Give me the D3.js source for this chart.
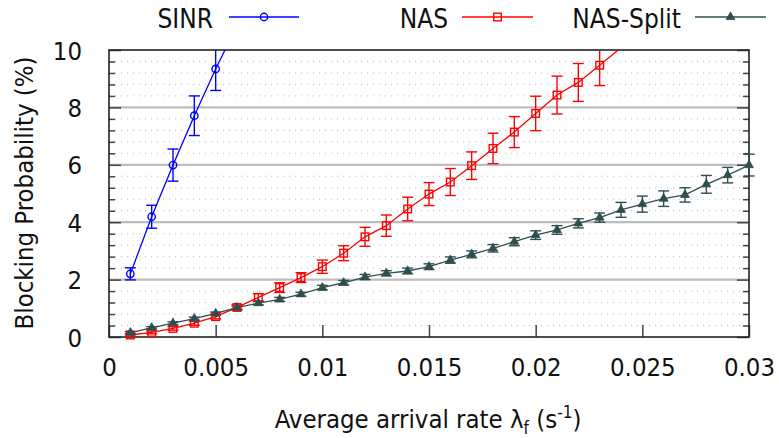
<!DOCTYPE html>
<html><head><meta charset="utf-8">
<script src="https://cdn.jsdelivr.net/npm/d3@7"></script>
<style>
body{margin:0;background:#fff;}
text{font-family:"DejaVu Sans Condensed","DejaVu Sans",sans-serif;font-stretch:condensed;fill:#111;}
</style></head>
<body><svg id="c" width="779" height="438"></svg>
<script>
const xSinr = [0.001,0.002,0.003,0.004,0.005,0.006];
const ySinr = [2.2,4.19,5.99,7.71,9.34,10.85];
const eSinr = [0.21,0.4,0.56,0.69,0.75,0.8];

const xNas = [0.001,0.002,0.003,0.004,0.005,0.006,0.007,0.008,0.009,0.010,0.011,0.012,0.013,0.014,0.015,0.016,0.017,0.018,0.019,0.020,0.021,0.022,0.023,0.024];
const yNas = [0.07,0.16,0.30,0.48,0.71,1.03,1.38,1.72,2.07,2.45,2.92,3.49,3.88,4.46,4.98,5.40,5.97,6.57,7.14,7.79,8.43,8.87,9.47,10.08];
const eNas = [0.04,0.05,0.06,0.07,0.08,0.09,0.13,0.17,0.17,0.23,0.26,0.33,0.37,0.41,0.40,0.47,0.48,0.53,0.54,0.60,0.66,0.66,0.71,0.7];

const xSplit = [0.001,0.002,0.003,0.004,0.005,0.006,0.007,0.008,0.009,0.010,0.011,0.012,0.013,0.014,0.015,0.016,0.017,0.018,0.019,0.020,0.021,0.022,0.023,0.024,0.025,0.026,0.027,0.028,0.029,0.030];
const ySplit = [0.15,0.32,0.48,0.64,0.82,1.02,1.18,1.31,1.49,1.72,1.89,2.09,2.22,2.30,2.45,2.68,2.88,3.09,3.32,3.55,3.73,3.96,4.16,4.43,4.63,4.82,4.95,5.32,5.64,5.99];
const eSplit = [0.04,0.04,0.05,0.05,0.05,0.06,0.06,0.07,0.07,0.08,0.08,0.09,0.09,0.1,0.1,0.11,0.12,0.13,0.14,0.15,0.15,0.16,0.16,0.26,0.28,0.27,0.25,0.31,0.27,0.38];

const xTickVals = [0,0.005,0.01,0.015,0.02,0.025,0.03];
const xTickLabels = ["0","0.005","0.01","0.015","0.02","0.025","0.03"];
const yTickVals = [0,2,4,6,8,10];
const yTickLabels = ["0","2","4","6","8","10"];
const seriesNames = ["SINR","NAS","NAS-Split"];
const seriesColors = ["#0000ff","#ff0000","#2f4f4f"];

const svg = d3.select("#c");
const L=109,R=749,T=50,B=337;
const x = d3.scaleLinear().domain([0,0.03]).range([L,R]);
const y = d3.scaleLinear().domain([0,10]).range([B,T]);

svg.append("defs").append("clipPath").attr("id","clip")
  .append("rect").attr("x",L-10).attr("y",T).attr("width",R-L+20).attr("height",B-T+10);

// minor dotted grid
const minor = d3.range(0,10.001,0.4).filter(v=>Math.abs(v/2-Math.round(v/2))>0.01);
svg.append("g").selectAll("line").data(minor).join("line")
  .attr("x1",L).attr("x2",R).attr("y1",d=>y(d)).attr("y2",d=>y(d))
  .attr("stroke","#bbb").attr("stroke-width",1).attr("stroke-dasharray","1,5");
// major grid
svg.append("g").selectAll("line").data([2,4,6,8]).join("line")
  .attr("x1",L).attr("x2",R).attr("y1",d=>y(d)).attr("y2",d=>y(d))
  .attr("stroke","#bdbdbd").attr("stroke-width",2.2);

// axes
const yl = d3.axisLeft(y).tickValues(yTickVals).tickFormat((d,i)=>yTickLabels[i]).tickSize(-12).tickPadding(26);
const gy = svg.append("g").attr("transform",`translate(${L},0)`).call(yl);
const yr = d3.axisRight(y).tickValues(yTickVals).tickFormat("").tickSize(-12);
svg.append("g").attr("transform",`translate(${R},0)`).call(yr);
svg.append("g").attr("transform",`translate(${L},0)`).call(d3.axisLeft(y).tickValues(minor).tickFormat("").tickSize(-6));
svg.append("g").attr("transform",`translate(${R},0)`).call(d3.axisRight(y).tickValues(minor).tickFormat("").tickSize(-6));
const xa = d3.axisBottom(x).tickValues(xTickVals).tickFormat((d,i)=>xTickLabels[i]).tickSize(-12).tickPadding(20);
const gx = svg.append("g").attr("transform",`translate(0,${B})`).call(xa);
svg.selectAll(".domain").remove();
svg.selectAll(".tick line").attr("stroke","#444").attr("stroke-width",1.5);
svg.selectAll(".tick text").attr("font-size",25.5).attr("fill","#111");
gy.selectAll(".tick text").attr("dx",-1).attr("dy","0.36em");
gx.selectAll(".tick text").attr("dy","0.73em");

// frame
svg.append("rect").attr("x",L).attr("y",T).attr("width",R-L).attr("height",B-T)
  .attr("fill","none").attr("stroke","#222").attr("stroke-width",1.6);

const series = [
  {xs:xSinr,ys:ySinr,es:eSinr},
  {xs:xNas,ys:yNas,es:eNas},
  {xs:xSplit,ys:ySplit,es:eSplit}
];
const line = d3.line().x(d=>x(d[0])).y(d=>y(d[1]));
const plot = svg.append("g");
const clipped = plot.append("g").attr("clip-path","url(#clip)");

function marker(g, type, cx, cy, col){
  if(type===0){
    g.append("circle").attr("cx",cx).attr("cy",cy).attr("r",3.7).attr("fill","none").attr("stroke",col).attr("stroke-width",1.4);
  } else if(type===1){
    g.append("rect").attr("x",cx-3.8).attr("y",cy-3.8).attr("width",7.6).attr("height",7.6).attr("fill","none").attr("stroke",col).attr("stroke-width",1.4);
  } else {
    g.append("path").attr("d",d3.symbol().type(d3.symbolTriangle).size(34)()).attr("transform",`translate(${cx},${cy})`).attr("fill",col).attr("stroke",col).attr("stroke-width",0.8);
  }
}

series.forEach((s,k)=>{
  const col = seriesColors[k];
  const pts = s.xs.map((v,i)=>[v,s.ys[i],s.es[i]]);
  clipped.append("path").datum(pts).attr("d",line).attr("fill","none").attr("stroke",col).attr("stroke-width",1.3);
  const eb = clipped.append("g").attr("stroke",col).attr("stroke-width",1.4);
  pts.filter(p=>p[1]<=10).forEach(p=>{
    const cx=x(p[0]), y1=y(p[1]-p[2]), y2=y(p[1]+p[2]);
    eb.append("line").attr("x1",cx).attr("x2",cx).attr("y1",y1).attr("y2",y2);
    [y1,y2].forEach(yy=>{ if(yy>=T-0.5) eb.append("line").attr("x1",cx-5.5).attr("x2",cx+5.5).attr("y1",yy).attr("y2",yy);});
  });
  pts.filter(p=>p[1]<=10).forEach(p=>marker(plot,k,x(p[0]),y(p[1]),col));
});

// legend
const legTextRight=[213,448,681], legLine=[[229,299],[462,533],[695,766]];
seriesNames.forEach((n,k)=>{
  svg.append("text").attr("x",legTextRight[k]).attr("y",28).attr("text-anchor","end").attr("font-size",26).text(n);
  svg.append("line").attr("x1",legLine[k][0]).attr("x2",legLine[k][1]).attr("y1",17).attr("y2",17).attr("stroke",seriesColors[k]).attr("stroke-width",1.3);
  const lg = svg.append("g");
  marker(lg,k,(legLine[k][0]+legLine[k][1])/2,17,seriesColors[k]);
});

// axis titles
svg.append("text").attr("transform","translate(33,193) rotate(-90)").attr("text-anchor","middle").attr("font-size",25.5).text("Blocking Probability (%)");
const xt = svg.append("text").attr("x",428).attr("y",428).attr("text-anchor","middle").attr("font-size",25.5);
xt.append("tspan").text("Average arrival rate λ");
xt.append("tspan").attr("font-size",17).attr("dy",6).text("f");
xt.append("tspan").attr("dy",-6).text(" (s");
xt.append("tspan").attr("font-size",17).attr("dy",-10).text("-1");
xt.append("tspan").attr("dy",10).text(")");
</script></body></html>
